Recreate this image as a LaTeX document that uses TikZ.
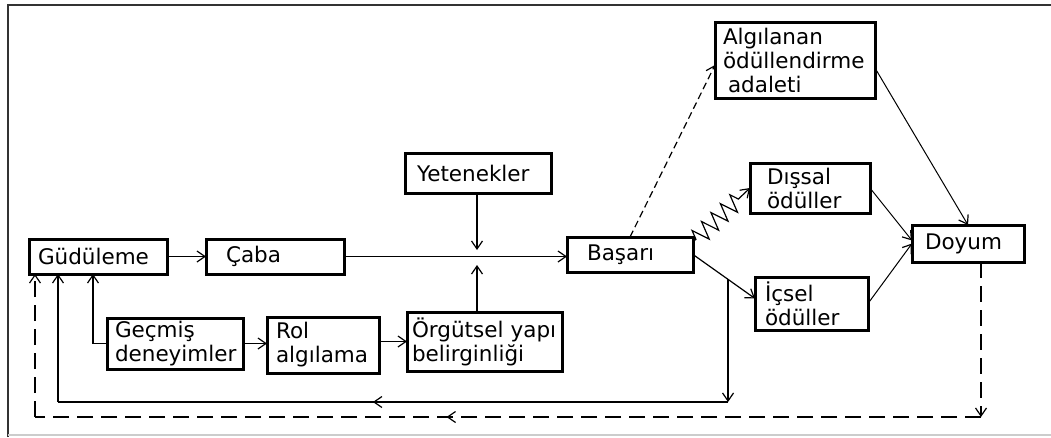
\documentclass[tikz,border=0pt]{standalone}
\usepackage{fontspec}
\setmainfont{DejaVu Sans}
\usetikzlibrary{arrows.meta,decorations.pathmorphing,decorations.markings,calc}
\begin{document}
\begin{tikzpicture}[x=1pt,y=-1pt,
  every node/.style={font=\fontsize{21.5}{24}\selectfont},
  box/.style={draw, line width=3pt, align=left, inner ysep=0pt, outer sep=0pt},
  conn/.style={line width=1.2pt},
  tip/.style={-{Straight Barb[length=8pt,width=11pt,line width=1.2pt]}},
  arr/.style={conn, tip},
  longdash/.style={dash pattern=on 16pt off 8pt},
  shortdash/.style={dash pattern=on 7pt off 4pt},
  midarrow/.style={postaction={decorate}, decoration={markings,
     mark=at position #1 with {\arrow{Straight Barb[length=8pt,width=11pt,line width=1.2pt]}}}}
]
\useasboundingbox (0,0) rectangle (1051,437);
\fill[white] (0,0) rectangle (1051,437);
% frame
\draw[line width=1.6pt, black!80] (8,437) -- (8,5) -- (1051,5);
\draw[line width=1.2pt, black!20] (8,435) -- (1051,435);

% boxes
\node[box, text width=120pt, inner xsep=9pt, minimum height=35pt] (gud) at (98,256.5) {Güdüleme};
\node[box, text width=98pt, inner xsep=20pt, minimum height=35pt] (caba) at (275,256.5) {Çaba};
\node[box, text width=120pt, inner xsep=8pt, minimum height=51pt] (gec) at (175,343.5) {Geçmiş\\deneyimler};
\node[box, text width=94pt, inner xsep=9pt, minimum height=56pt] (rol) at (323,345) {Rol\\algılama};
\node[box, text width=145pt, inner xsep=5pt, minimum height=59pt] (org) at (484.5,341.5) {Örgütsel~yapı\\belirginliği};
\node[box, text width=122pt, inner xsep=12pt, minimum height=40pt] (yet) at (478,173) {Yetenekler};
\node[box, text width=86pt, inner xsep=20pt, minimum height=35pt] (bas) at (630,254.5) {Başarı};
\node[box, text width=144pt, inner xsep=8pt, minimum height=76pt] (alg) at (795,60) {Algılanan\\ödüllendirme\\\hspace*{5pt}adaleti};
\node[box, text width=86pt, inner xsep=17pt, minimum height=50pt] (dis) at (810,188) {Dışsal\\ödüller};
\node[box, text width=86pt, inner xsep=13pt, minimum height=37pt] (doy) at (968,243.5) {Doyum};
\node[box, text width=93pt, inner xsep=10pt, minimum height=53pt] (ics) at (811.5,303.5) {İçsel\\ödüller};

% helper coordinates
\coordinate (j1) at (477,250);
\coordinate (j2) at (477,265);
\coordinate (gk) at (93,343.5);
\coordinate (fbS) at (58,402);
\coordinate (fbD) at (35,417);
\coordinate (fbDr) at (981,417);

% connectors
\draw[arr] (gud.east) -- (caba.west);
\draw[arr] (caba.east) -- (caba.east -| bas.west);
\draw[arr] (yet.south -| j1) -- (j1);
\draw[arr] (org.north -| j2) -- (j2);
\draw[arr] (gec.east) -- (gec.east -| rol.west);
\draw[arr] (org.west -| rol.east) -- (org.west);
\draw[arr] (gec.west) -| (gud.south -| gk);

\draw[arr, shortdash] (bas.north) -- ($(alg.west)+(0,5)$);
\draw[arr, decorate, decoration={zigzag, segment length=13pt, amplitude=9pt, pre length=4pt, post length=12pt}]
  ($(bas.north east)+(0,5)$) -- (dis.west);
\draw[arr] (bas.east) -- coordinate[pos=0.565] (jb) ($(ics.west)+(0,-5)$);
\draw[arr, line width=1pt] ($(alg.east)+(0,8)$) -- (doy.north);
\draw[arr, line width=1pt] (dis.east) -- ($(doy.west)+(0,-3)$);
\draw[arr, line width=1pt] (ics.east) -- (doy.west);

% solid feedback
\draw[arr] (jb) -- (jb |- fbS);
\draw[conn, midarrow=0.53] (jb |- fbS) -- (fbS);
\draw[arr] (fbS) -- (gud.south -| fbS);

% dashed feedback
\draw[arr, longdash] (doy.south -| fbDr) -- (fbDr);
\draw[conn, longdash, midarrow=0.565] (fbDr) -- (fbD);
\draw[arr, longdash] (fbD) -- (gud.south -| fbD);
\end{tikzpicture}
\end{document}
